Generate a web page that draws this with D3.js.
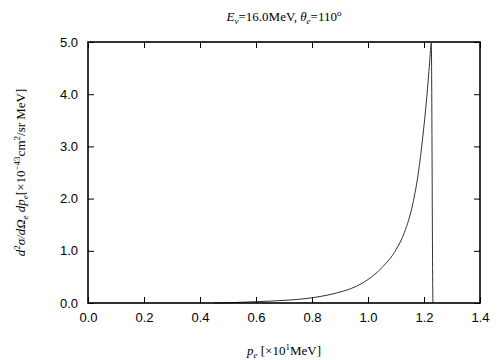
<!DOCTYPE html>
<html>
<head>
<meta charset="utf-8">
<script src="https://cdn.jsdelivr.net/npm/d3@7"></script>
<style>
  body { margin: 0; background: #fff; }
  svg { display: block; }
  .tick text { font-family: "Liberation Sans", Arial, sans-serif; font-size: 13px; fill: #000; }
  .lbl { font-family: "Liberation Serif", "Times New Roman", serif; font-size: 13px; fill: #000; }
</style>
</head>
<body>
<div class="chart"></div>
<script>
// momentum p_e [x10 MeV] and cross section [x10^-43 cm^2/sr MeV]
var momentum = [0.45, 0.5, 0.6, 0.7, 0.8, 0.9, 0.95, 1.0, 1.05, 1.1, 1.13, 1.16, 1.18, 1.195, 1.21, 1.22, 1.226, 1.232, 1.233];
var xsec     = [0.0, 0.005, 0.025, 0.05, 0.10, 0.21, 0.30, 0.45, 0.68, 1.02, 1.35, 1.90, 2.50, 3.15, 3.95, 4.60, 4.98, 0.02, 0.0];
var xTicks = [0.0, 0.2, 0.4, 0.6, 0.8, 1.0, 1.2, 1.4];
var yTicks = [0.0, 1.0, 2.0, 3.0, 4.0, 5.0];

var margin = {top: 42, right: 24, bottom: 57, left: 88},
    width = 504 - margin.left - margin.right,
    height = 360 - margin.top - margin.bottom;

var x = d3.scaleLinear().domain([0, 1.4]).range([0, width]);
var y = d3.scaleLinear().domain([0, 5]).range([height, 0]);

var root = d3.select(".chart").append("svg")
    .attr("width", 504)
    .attr("height", 360);
var svg = root.append("g")
    .attr("transform", "translate(" + margin.left + "," + margin.top + ")");

var fmt = d3.format(".1f");

// axes: ticks pointing inward, mirrored on top/right
svg.append("g")
    .attr("transform", "translate(0," + height + ")")
    .call(d3.axisBottom(x).tickValues(xTicks).tickFormat(fmt).tickSize(-6).tickPadding(10))
    .call(function(g) { g.select(".domain").remove(); });
svg.append("g")
    .call(d3.axisTop(x).tickValues(xTicks).tickFormat("").tickSize(-6))
    .call(function(g) { g.select(".domain").remove(); });
svg.append("g")
    .call(d3.axisLeft(y).tickValues(yTicks).tickFormat(fmt).tickSize(-6).tickPadding(10))
    .call(function(g) { g.select(".domain").remove(); });
svg.append("g")
    .attr("transform", "translate(" + width + ",0)")
    .call(d3.axisRight(y).tickValues(yTicks).tickFormat("").tickSize(-6))
    .call(function(g) { g.select(".domain").remove(); });

svg.selectAll(".tick line").attr("stroke", "#000").attr("stroke-width", 1);

var pts = momentum.map(function(m, i) { return [m, xsec[i]]; });
var line = d3.line()
    .x(function(d) { return x(d[0]); })
    .y(function(d) { return y(d[1]); })
    .curve(d3.curveMonotoneX);

svg.append("path")
    .datum(pts)
    .attr("fill", "none")
    .attr("stroke", "#333")
    .attr("stroke-width", 1)
    .attr("d", line);

svg.append("rect")
    .attr("width", width)
    .attr("height", height)
    .attr("fill", "none")
    .attr("stroke", "#000")
    .attr("stroke-width", 1.6);

// title
var t = root.append("text").attr("class", "lbl")
    .attr("x", margin.left + width / 2).attr("y", 21)
    .attr("text-anchor", "middle");
t.append("tspan").attr("font-style", "italic").text("E");
t.append("tspan").attr("font-style", "italic").attr("font-size", "9px").attr("dy", 3).text("ν");
t.append("tspan").attr("dy", -3).text("=16.0MeV,  ");
t.append("tspan").attr("font-style", "italic").text("θ");
t.append("tspan").attr("font-style", "italic").attr("font-size", "9px").attr("dy", 3).text("e");
t.append("tspan").attr("dy", -3).text("=110");
t.append("tspan").attr("font-size", "9px").attr("dy", -5).text("o");

// x label
var xl = root.append("text").attr("class", "lbl")
    .attr("x", margin.left + width / 2).attr("y", 355)
    .attr("text-anchor", "middle");
xl.append("tspan").attr("font-style", "italic").text("p");
xl.append("tspan").attr("font-style", "italic").attr("font-size", "9px").attr("dy", 3).text("e");
xl.append("tspan").attr("dy", -3).text(" [×10");
xl.append("tspan").attr("font-size", "9px").attr("dy", -5).text("1");
xl.append("tspan").attr("dy", 5).text("MeV]");

// y label
var yl = root.append("text").attr("class", "lbl")
    .attr("transform", "translate(25," + (margin.top + height / 2) + ") rotate(-90)")
    .attr("text-anchor", "middle");
yl.append("tspan").attr("font-style", "italic").text("d");
yl.append("tspan").attr("font-size", "9px").attr("dy", -5).text("2");
yl.append("tspan").attr("font-style", "italic").attr("dy", 5).text("σ/dΩ");
yl.append("tspan").attr("font-style", "italic").attr("font-size", "9px").attr("dy", 3).text("e");
yl.append("tspan").attr("font-style", "italic").attr("dy", -3).text(" dp");
yl.append("tspan").attr("font-style", "italic").attr("font-size", "9px").attr("dy", 3).text("e");
yl.append("tspan").attr("dy", -3).text("[×10");
yl.append("tspan").attr("font-size", "9px").attr("dy", -5).text("−43");
yl.append("tspan").attr("dy", 5).text("cm");
yl.append("tspan").attr("font-size", "9px").attr("dy", -5).text("2");
yl.append("tspan").attr("dy", 5).text("/sr MeV]");
</script>
</body>
</html>
